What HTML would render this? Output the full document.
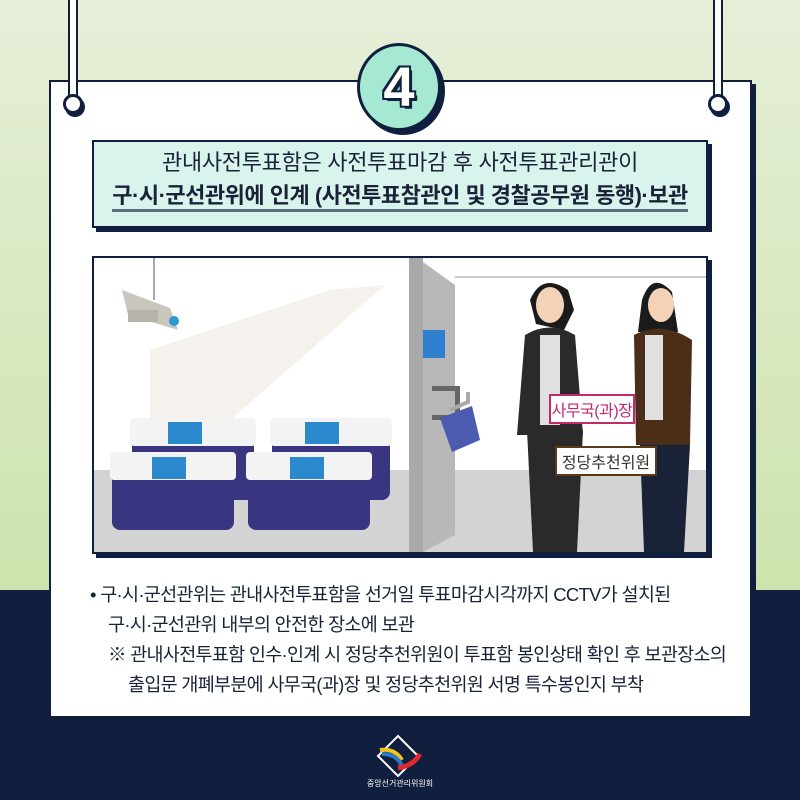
<!DOCTYPE html>
<html><head><meta charset="utf-8"><style>
*{margin:0;padding:0;box-sizing:border-box}
body{width:800px;height:800px;overflow:hidden;position:relative;background:linear-gradient(#e6efd8,#cde3ad 590px,#0f1f3d 590px);font-family:"Liberation Sans","Noto Sans CJK KR",sans-serif;color:#1a2238}
.abs{position:absolute}
.str{position:absolute;top:0;width:10px;height:100px;background:#fff;border:2px solid #0f1f3d;border-top:none}
.ring{position:absolute;width:20px;height:20px;border-radius:50%;border:3px solid #0f1f3d;background:#fff;box-shadow:2px 3px 0 #0f1f3d}
</style></head><body>
<div class="abs" style="left:0;top:590px;width:800px;height:210px;background:#0f1f3d"></div>
<div class="abs" style="left:52px;top:84px;width:704px;height:640px;background:#0f1f3d"></div>
<div class="abs" style="left:49px;top:80px;width:703px;height:638px;background:#fff;border:2px solid #0f1f3d"></div>
<div class="str" style="left:68px"></div><div class="str" style="left:713px"></div>
<div class="ring" style="left:63px;top:94px"></div><div class="ring" style="left:708px;top:94px"></div>
<div class="abs" style="left:361px;top:47px;width:84px;height:88px;border-radius:50%;background:#0f1f3d"></div>
<div class="abs" style="left:357px;top:43px;width:84px;height:88px;border-radius:50%;background:#a6e9d3;border:3px solid #0f1f3d;text-align:center;font:bold 56px/82px 'Liberation Sans',sans-serif;color:#fff;text-shadow:3px 3px 0 #0f1f3d,-2px -2px 0 #0f1f3d,2px -2px 0 #0f1f3d,-2px 2px 0 #0f1f3d">4</div>
<div class="abs" style="left:96px;top:144px;width:616px;height:88px;background:#0f1f3d"></div>
<div class="abs" style="left:92px;top:140px;width:616px;height:88px;background:#d9f4ec;border:2px solid #0f1f3d;text-align:center">
<div style="font-size:22px;margin-top:7px;line-height:28px;letter-spacing:-0.3px">관내사전투표함은 사전투표마감 후 사전투표관리관이</div>
<div style="font-size:22px;font-weight:bold;margin-top:5px;line-height:27px;display:inline-block;border-bottom:3px solid #5c6f80;letter-spacing:-0.5px">구·시·군선관위에 인계 (사전투표참관인 및 경찰공무원 동행)·보관</div>
</div>
<div class="abs" style="left:96px;top:260px;width:616px;height:298px;background:#0f1f3d"></div>
<div class="abs" style="left:92px;top:256px;width:616px;height:298px;background:#fff;border:2px solid #0f1f3d;overflow:hidden">
<svg width="612" height="294" viewBox="94 258 612 294">
<rect x="94" y="258" width="612" height="294" fill="#fff"/>
<rect x="94" y="470" width="612" height="82" fill="#d3d3d3"/>
<rect x="430" y="275" width="276" height="195" fill="#fff"/>
<line x1="455" y1="277" x2="706" y2="277" stroke="#ccc" stroke-width="2"/>
<polygon points="150,350 330,290 385,285 150,490" fill="#f2efe8" opacity="0.8"/>
<line x1="154" y1="258" x2="154" y2="300" stroke="#aaa" stroke-width="2"/>
<polygon points="122,290 170,308 178,330 128,315" fill="#c9c6bd"/>
<rect x="128" y="310" width="30" height="12" fill="#b6b3aa"/>
<circle cx="174" cy="321" r="5" fill="#2a9ad0"/>
<rect x="409" y="258" width="14" height="294" fill="#a9a9a9"/>
<polygon points="423,262 455,285 455,535 423,552" fill="#b8b8b8"/>
<rect x="423" y="330" width="22" height="28" fill="#2e7fd0"/>
<rect x="432" y="386" width="28" height="5" fill="#666"/><rect x="432" y="415" width="28" height="5" fill="#666"/>
<rect x="455" y="390" width="5" height="30" fill="#666"/>
<path d="M450 410 l18 -8 v-10" stroke="#aaa" stroke-width="4" fill="none"/>
<polygon points="440,418 472,406 480,440 452,452" fill="#4b5bb0"/>
<g fill="#3a3580">
<rect x="132" y="430" width="122" height="70" rx="8"/><rect x="272" y="430" width="118" height="70" rx="8"/>
<rect x="112" y="460" width="122" height="70" rx="8"/><rect x="248" y="460" width="122" height="70" rx="8"/>
</g>
<g fill="#f3f3f3">
<rect x="130" y="418" width="126" height="28" rx="4"/><rect x="270" y="418" width="122" height="28" rx="4"/>
<rect x="110" y="452" width="126" height="28" rx="4"/><rect x="246" y="452" width="126" height="28" rx="4"/>
</g>
<g fill="#2a88cc">
<rect x="168" y="422" width="34" height="22"/><rect x="305" y="422" width="34" height="22"/>
<rect x="152" y="457" width="34" height="22"/><rect x="290" y="457" width="34" height="22"/>
</g>
<path d="M530 300 q12 -28 38 -10 l6 20 l-10 20 l-28 -6z" fill="#1b1b1b"/>
<ellipse cx="550" cy="305" rx="14" ry="18" fill="#f3d2b8"/>
<path d="M525 335 q25 -15 50 0 l8 100 l-66 0z" fill="#2a2a2a"/>
<rect x="540" y="335" width="20" height="90" fill="#e0e0e0"/>
<path d="M527 430 h56 l-6 122 h-44z" fill="#2a2a2a"/>
<path d="M642 300 q10 -30 30 -8 l6 40 l-40 0z" fill="#1b1b1b"/>
<ellipse cx="661" cy="305" rx="13" ry="17" fill="#f3d2b8"/>
<path d="M634 335 q28 -15 58 5 l-2 105 l-54 0z" fill="#4a2e17"/>
<rect x="645" y="335" width="18" height="85" fill="#e0e0e0"/>
<path d="M640 445 h50 l-6 107 h-40z" fill="#1a2238"/>
<rect x="550" y="395" width="84" height="28" fill="#fff" stroke="#c2296e" stroke-width="2"/>
<text x="592" y="416" text-anchor="middle" font-size="16" fill="#c2296e" font-family="Liberation Sans,Noto Sans CJK KR,sans-serif" letter-spacing="-0.5">사무국(과)장</text>
<rect x="556" y="447" width="100" height="28" fill="#fff" stroke="#5a3a1a" stroke-width="2"/>
<text x="606" y="468" text-anchor="middle" font-size="16" fill="#333" font-family="Liberation Sans,Noto Sans CJK KR,sans-serif">정당추천위원</text>
</svg>
</div>
<div class="abs" style="left:90px;top:580px;font-size:18.5px;line-height:30px;letter-spacing:-0.7px;color:#1a2238;white-space:nowrap">
<div>• 구·시·군선관위는 관내사전투표함을 선거일 투표마감시각까지 CCTV가 설치된</div>
<div style="padding-left:18px">구·시·군선관위 내부의 안전한 장소에 보관</div>
<div style="padding-left:18px">※ 관내사전투표함 인수·인계 시 정당추천위원이 투표함 봉인상태 확인 후 보관장소의</div>
<div style="padding-left:38px">출입문 개폐부분에 사무국(과)장 및 정당추천위원 서명 특수봉인지 부착</div>
</div>
<svg class="abs" style="left:370px;top:730px" width="60" height="50">
<polygon points="28,6 48,26 28,46 8,26" fill="none" stroke="#fff" stroke-width="2"/>
<path d="M10 20 q15 -2 22 10" stroke="#f3c21b" stroke-width="4" fill="none"/>
<path d="M12 24 q15 0 20 12" stroke="#2a7ac8" stroke-width="4" fill="none"/>
<path d="M28 38 q15 -2 22 -14" stroke="#e0282e" stroke-width="5" fill="none"/>
</svg>
<div class="abs" style="left:340px;top:778px;width:120px;text-align:center;font-size:8px;color:#fff">중앙선거관리위원회</div>
</body></html>
